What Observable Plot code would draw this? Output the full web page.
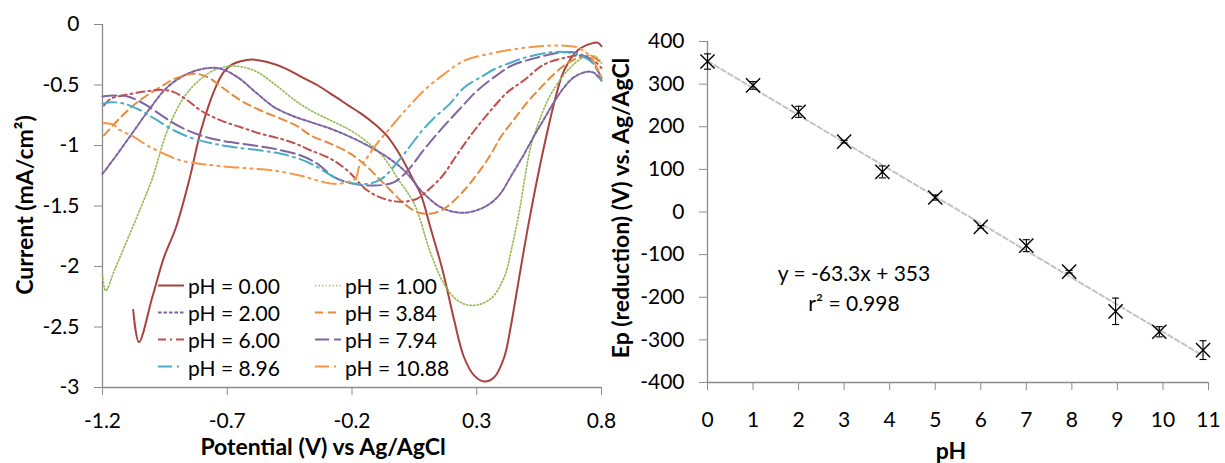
<!DOCTYPE html>
<html><head><meta charset="utf-8">
<script src="https://cdn.jsdelivr.net/npm/d3@7"></script>
<script src="https://cdn.jsdelivr.net/npm/@observablehq/plot@0.6"></script>
<style>
html,body{margin:0;padding:0;background:#fff;}
#wrap{position:relative;width:1225px;height:463px;overflow:hidden;font-family:Lato,"Open Sans",sans-serif;color:#000;}
#wrap svg{position:absolute;top:0;}
.abs{position:absolute;white-space:nowrap;line-height:1;}
.title{font-weight:bold;font-size:23px;transform:translate(-50%,-50%);}
.rot{transform:translate(-50%,-50%) rotate(-90deg);}
.leg{font-size:21px;display:flex;align-items:center;transform:translateY(-50%);}
.eq{font-size:21px;transform:translate(-50%,-50%);}
</style></head><body><div id="wrap"></div>
<script>
// ---------- Left panel: cyclic voltammograms ----------
const cvLabels = ["pH = 0.00","pH = 1.00","pH = 2.00","pH = 3.84","pH = 6.00","pH = 7.94","pH = 8.96","pH = 10.88"];
const cv000 = [[-1.077,-2.36],[-1.054,-2.625],[-1.0,-2.25],[-0.953,-1.92],[-0.906,-1.68],[-0.853,-1.29],[-0.806,-0.88],[-0.753,-0.55],[-0.713,-0.39],[-0.68,-0.33],[-0.646,-0.303],[-0.60,-0.29],[-0.54,-0.31],[-0.47,-0.36],[-0.405,-0.43],[-0.34,-0.50],[-0.272,-0.59],[-0.21,-0.675],[-0.165,-0.735],[-0.111,-0.82],[-0.058,-0.925],[-0.004,-1.09],[0.042,-1.27],[0.075,-1.40],[0.116,-1.69],[0.163,-2.03],[0.209,-2.44],[0.249,-2.75],[0.289,-2.90],[0.329,-2.95],[0.37,-2.915],[0.41,-2.75],[0.436,-2.5],[0.457,-2.25],[0.48,-1.97],[0.503,-1.70],[0.545,-1.25],[0.584,-0.876],[0.62,-0.57],[0.65,-0.38],[0.704,-0.215],[0.764,-0.154],[0.785,-0.15],[0.80,-0.18]];
const cv100 = [[-1.2,-2.07],[-1.187,-2.2],[-1.15,-2.02],[-1.113,-1.84],[-1.046,-1.51],[-1.0,-1.27],[-0.94,-0.876],[-0.873,-0.60],[-0.806,-0.45],[-0.739,-0.366],[-0.673,-0.344],[-0.592,-0.38],[-0.512,-0.49],[-0.43,-0.625],[-0.365,-0.711],[-0.285,-0.793],[-0.205,-0.876],[-0.138,-0.973],[-0.085,-1.069],[-0.045,-1.179],[-0.018,-1.27],[0.049,-1.48],[0.116,-1.895],[0.169,-2.143],[0.223,-2.281],[0.283,-2.322],[0.356,-2.267],[0.41,-2.088],[0.44,-1.85],[0.47,-1.55],[0.516,-1.014],[0.55,-0.8],[0.584,-0.628],[0.62,-0.5],[0.664,-0.38],[0.717,-0.283],[0.757,-0.256],[0.78,-0.27],[0.80,-0.32]];
const cv200 = [[-1.2,-1.235],[-1.14,-1.069],[-1.073,-0.876],[-1.006,-0.683],[-0.94,-0.518],[-0.859,-0.407],[-0.779,-0.361],[-0.726,-0.366],[-0.659,-0.435],[-0.579,-0.573],[-0.512,-0.683],[-0.432,-0.76],[-0.365,-0.807],[-0.285,-0.862],[-0.205,-0.931],[-0.125,-1.014],[-0.058,-1.097],[0.009,-1.207],[0.089,-1.399],[0.156,-1.51],[0.236,-1.556],[0.316,-1.523],[0.383,-1.427],[0.443,-1.234],[0.49,-1.07],[0.53,-0.92],[0.57,-0.78],[0.61,-0.64],[0.65,-0.52],[0.69,-0.435],[0.744,-0.39],[0.77,-0.40],[0.80,-0.465]];
const cv384 = [[-1.194,-0.917],[-1.127,-0.766],[-1.06,-0.642],[-0.98,-0.531],[-0.899,-0.44],[-0.833,-0.407],[-0.779,-0.435],[-0.713,-0.531],[-0.646,-0.628],[-0.566,-0.711],[-0.485,-0.779],[-0.42,-0.84],[-0.365,-0.917],[-0.285,-0.986],[-0.205,-1.069],[-0.138,-1.179],[-0.085,-1.289],[-0.045,-1.372],[0.009,-1.48],[0.062,-1.551],[0.11,-1.565],[0.16,-1.535],[0.196,-1.48],[0.249,-1.372],[0.303,-1.234],[0.356,-1.075],[0.396,-0.93],[0.44,-0.81],[0.50,-0.65],[0.557,-0.52],[0.637,-0.36],[0.70,-0.28],[0.757,-0.26],[0.80,-0.32]];
const cv600 = [[-1.194,-0.669],[-1.167,-0.614],[-1.1,-0.579],[-1.02,-0.551],[-0.966,-0.54],[-0.913,-0.559],[-0.859,-0.628],[-0.806,-0.711],[-0.726,-0.793],[-0.646,-0.849],[-0.566,-0.903],[-0.485,-0.945],[-0.42,-0.99],[-0.365,-1.041],[-0.285,-1.11],[-0.218,-1.207],[-0.138,-1.372],[-0.071,-1.441],[-0.004,-1.465],[0.06,-1.44],[0.11,-1.36],[0.163,-1.25],[0.223,-1.07],[0.289,-0.88],[0.356,-0.71],[0.423,-0.56],[0.49,-0.46],[0.57,-0.33],[0.664,-0.27],[0.717,-0.256],[0.77,-0.30],[0.80,-0.36]];
const cv794 = [[-1.2,-0.595],[-1.153,-0.587],[-1.1,-0.595],[-1.033,-0.655],[-0.953,-0.766],[-0.886,-0.849],[-0.806,-0.917],[-0.726,-0.959],[-0.619,-0.992],[-0.512,-1.027],[-0.405,-1.083],[-0.338,-1.152],[-0.272,-1.262],[-0.192,-1.317],[-0.111,-1.331],[-0.031,-1.303],[0.022,-1.21],[0.09,-1.03],[0.16,-0.86],[0.24,-0.68],[0.30,-0.55],[0.38,-0.42],[0.44,-0.34],[0.53,-0.28],[0.637,-0.23],[0.70,-0.235],[0.757,-0.30],[0.80,-0.44]];
const cv896 = [[-1.2,-0.655],[-1.167,-0.642],[-1.113,-0.655],[-1.046,-0.711],[-0.98,-0.793],[-0.913,-0.876],[-0.833,-0.945],[-0.753,-0.986],[-0.673,-1.014],[-0.566,-1.041],[-0.485,-1.069],[-0.405,-1.115],[-0.338,-1.179],[-0.272,-1.262],[-0.218,-1.303],[-0.138,-1.317],[-0.085,-1.28],[-0.058,-1.234],[0.009,-1.07],[0.076,-0.89],[0.13,-0.77],[0.19,-0.66],[0.25,-0.52],[0.32,-0.43],[0.37,-0.37],[0.43,-0.32],[0.5,-0.27],[0.597,-0.23],[0.664,-0.23],[0.73,-0.27],[0.77,-0.33],[0.80,-0.46]];
const cv1088 = [[-1.2,-0.815],[-1.153,-0.83],[-1.14,-0.86],[-1.073,-0.931],[-1.02,-1.0],[-0.953,-1.069],[-0.886,-1.124],[-0.806,-1.152],[-0.726,-1.171],[-0.619,-1.188],[-0.512,-1.207],[-0.405,-1.25],[-0.338,-1.289],[-0.272,-1.317],[-0.218,-1.303],[-0.185,-1.27],[-0.17,-1.17],[-0.15,-1.13],[-0.111,-1.014],[-0.045,-0.85],[0.022,-0.69],[0.089,-0.545],[0.169,-0.41],[0.249,-0.30],[0.356,-0.24],[0.463,-0.20],[0.55,-0.18],[0.637,-0.174],[0.704,-0.19],[0.757,-0.27],[0.80,-0.435]];
const cvSeries = [cv000, cv100, cv200, cv384, cv600, cv794, cv896, cv1088];
const potentialTicks = [-1.2, -0.7, -0.2, 0.3, 0.8];
const currentTicks = [0, -0.5, -1, -1.5, -2, -2.5, -3];

// ---------- Right panel: peak potential vs pH ----------
const phValues = [0, 1, 2, 3, 3.84, 5, 6, 7, 7.94, 8.96, 9.92, 10.88];
const epValues = [353, 297, 235, 165, 94, 34, -35, -79, -140, -233, -281, -324];
const epErrors = [18, 9, 13, 3, 14, 6, 3, 14, 3, 31, 12, 22];
const phTicks = [0, 1, 2, 3, 4, 5, 6, 7, 8, 9, 10, 11];
const epTicks = [400, 300, 200, 100, 0, -100, -200, -300, -400];
const fitText = ["y = -63.3x + 353", "r\u00B2 = 0.998"];

// ---------- styles ----------
const cvColors = ["#A8423F", "#9BBB59", "#7F62A1", "#E68A3C", "#C0504D", "#8064A2", "#4BACC6", "#F79646"];
const cvDashes = [null, "1.3,2.2", "3.5,2", "8,5", "8,4,2,4", "14,5", "14,5,2,5", "14,5,2,5,2,5"];
const cvWidths = [2, 1.7, 2, 2, 2, 2, 2, 2];
const axisColor = "#8c8c8c";
const fmt = d => String(d);
const baseStyle = {fontFamily: "Lato, 'Open Sans', sans-serif", fontSize: "21px", color: "#000", background: "transparent", overflow: "visible"};

const wrap = document.getElementById("wrap");

const left = Plot.plot({
  width: 612, height: 463,
  marginLeft: 102, marginRight: 11, marginTop: 24, marginBottom: 76,
  style: baseStyle,
  x: {domain: [potentialTicks[0], potentialTicks[potentialTicks.length - 1]]},
  y: {domain: [currentTicks[currentTicks.length - 1], currentTicks[0]]},
  marks: [
    Plot.ruleX([potentialTicks[0]], {stroke: axisColor, strokeWidth: 1.3}),
    Plot.ruleY([currentTicks[currentTicks.length - 1]], {stroke: axisColor, strokeWidth: 1.3}),
    Plot.axisX({ticks: potentialTicks, tickSize: 8, tickPadding: 18, tickFormat: fmt, stroke: axisColor, fill: "#000", label: null}),
    Plot.axisY({ticks: currentTicks, tickSize: 8, tickPadding: 15, tickFormat: fmt, stroke: axisColor, fill: "#000", label: null}),
    ...cvSeries.map((s, i) => Plot.line(s, {
      x: d => d[0], y: d => d[1], stroke: cvColors[i], strokeWidth: cvWidths[i],
      strokeDasharray: cvDashes[i], curve: "catmull-rom"
    }))
  ]
});
left.style.left = "0px";
wrap.appendChild(left);

const epData = phValues.map((p, i) => ({ph: p, ep: epValues[i], err: epErrors[i]}));
const capSymbol = {draw(ctx) { ctx.moveTo(-3.5, 0); ctx.lineTo(3.5, 0); }};

const right = Plot.plot({
  width: 613, height: 463,
  marginLeft: 95, marginRight: 17, marginTop: 41, marginBottom: 81,
  style: baseStyle,
  x: {domain: [phTicks[0], phTicks[phTicks.length - 1]]},
  y: {domain: [epTicks[epTicks.length - 1], epTicks[0]]},
  marks: [
    Plot.ruleX([phTicks[0]], {stroke: axisColor, strokeWidth: 1.3}),
    Plot.ruleY([epTicks[epTicks.length - 1]], {stroke: axisColor, strokeWidth: 1.3}),
    Plot.axisX({ticks: phTicks, tickSize: 8, tickPadding: 22, tickFormat: fmt, stroke: axisColor, fill: "#000", label: null}),
    Plot.axisY({ticks: epTicks, tickSize: 8, tickPadding: 15, tickFormat: fmt, stroke: axisColor, fill: "#000", label: null}),
    Plot.linearRegressionY(epData, {x: "ph", y: "ep", ci: 0, stroke: "#c4c4c4", strokeWidth: 2, strokeDasharray: "5,3"}),
    Plot.ruleX(epData, {x: "ph", y1: d => d.ep - d.err, y2: d => d.ep + d.err, stroke: "#000", strokeWidth: 1.1}),
    Plot.dot(epData, {x: "ph", y: d => d.ep + d.err, symbol: capSymbol, stroke: "#000", strokeWidth: 1.1}),
    Plot.dot(epData, {x: "ph", y: d => d.ep - d.err, symbol: capSymbol, stroke: "#000", strokeWidth: 1.1}),
    Plot.dot(epData, {x: "ph", y: "ep", symbol: "times", r: 6.5, stroke: "#000", strokeWidth: 1.4})
  ]
});
right.style.left = "612px";
wrap.appendChild(right);

// ---------- titles ----------
function addText(text, cls, x, y) {
  const d = document.createElement("div");
  d.className = "abs " + cls;
  d.style.left = x + "px";
  d.style.top = y + "px";
  d.textContent = text;
  wrap.appendChild(d);
  return d;
}
addText("Current (mA/cm\u00B2)", "title rot", 24, 205);
addText("Potential (V) vs Ag/AgCl", "title", 323, 446);
addText("Ep (reduction) (V) vs. Ag/AgCl", "title rot", 620, 208);
addText("pH", "title", 951, 450);
addText(fitText[0], "eq", 854, 272);
addText(fitText[1], "eq", 854, 302);

// ---------- legend (inside left plot) ----------
cvLabels.forEach((lab, i) => {
  const col = i % 2, row = Math.floor(i / 2);
  const d = document.createElement("div");
  d.className = "abs leg";
  d.style.left = (col ? 315 : 158) + "px";
  d.style.top = (285 + row * 27.2) + "px";
  const ns = "http://www.w3.org/2000/svg";
  const s = document.createElementNS(ns, "svg");
  s.setAttribute("width", 28); s.setAttribute("height", 10);
  s.style.position = "static";
  s.style.marginRight = "2px";
  const l = document.createElementNS(ns, "line");
  l.setAttribute("x1", 0); l.setAttribute("x2", 26); l.setAttribute("y1", 5); l.setAttribute("y2", 5);
  l.setAttribute("stroke", cvColors[i]); l.setAttribute("stroke-width", cvWidths[i]);
  if (cvDashes[i]) l.setAttribute("stroke-dasharray", cvDashes[i]);
  s.appendChild(l);
  const t = document.createElement("span");
  t.textContent = lab;
  d.appendChild(s); d.appendChild(t);
  wrap.appendChild(d);
});
</script>
</body></html>
